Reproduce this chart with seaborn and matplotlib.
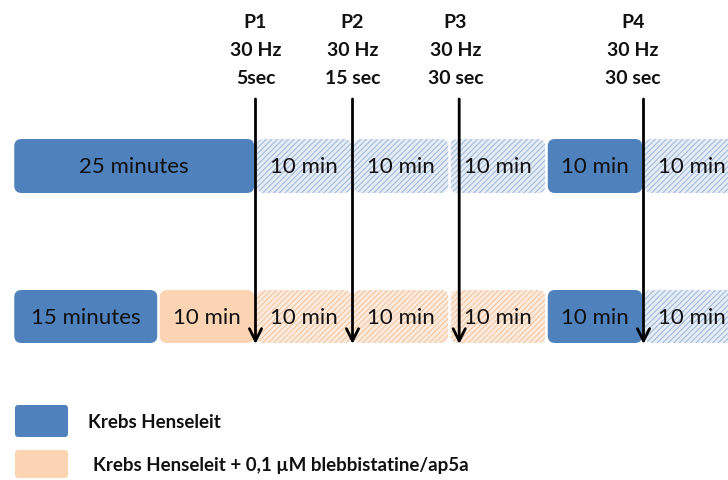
import numpy as np
import matplotlib
matplotlib.use("Agg")
import matplotlib.pyplot as plt
from matplotlib.patches import FancyBboxPatch
import seaborn as sns

# protocolo: duraciones (min) de cada bloque por fila
top_durations = [25, 10, 10, 10, 10, 10]
top_kinds = ["kh", "kh_h", "kh_h", "kh_h", "kh", "kh_h"]
top_labels = ["25 minutes", "10 min", "10 min", "10 min", "10 min", "10 min"]

bottom_durations = [15, 10, 10, 10, 10, 10, 10]
bottom_kinds = ["kh", "dr", "dr_h", "dr_h", "dr_h", "kh", "kh_h"]
bottom_labels = ["15 minutes", "10 min", "10 min", "10 min", "10 min", "10 min", "10 min"]

# estimulaciones
pulse_names = ["P1", "P2", "P3", "P4"]
pulse_freq = ["30 Hz", "30 Hz", "30 Hz", "30 Hz"]
pulse_len = ["5sec", "15 sec", "30 sec", "30 sec"]
pulse_time = [25, 35, 46, 65]
pulse_label_time = [25, 35, 45.6, 63.9]

legend_labels = ["Krebs Henseleit", "Krebs Henseleit + 0,1 µM blebbistatine/ap5a"]

sns.set_theme(style="white")
plt.rcParams["font.family"] = ["Lato", "DejaVu Sans"]
plt.rcParams["hatch.linewidth"] = 0.8

blue = "#4F81BD"
peach = "#FBD4B4"
styles = {
    "kh": dict(facecolor=blue, edgecolor=blue, hatch=None),
    "kh_h": dict(facecolor="#E6EDF6", edgecolor="#A3BBDA", hatch="//////"),
    "dr": dict(facecolor=peach, edgecolor=peach, hatch=None),
    "dr_h": dict(facecolor="#FDEBDD", edgecolor="#F0C6A3", hatch="//////"),
}

px_per_min = 9.7
x0 = -13 / px_per_min
fig = plt.figure(figsize=(7.28, 4.8), dpi=100)
ax = fig.add_axes([0, 0, 1, 1])
ax.set_xlim(x0, x0 + 728 / px_per_min)
ax.set_ylim(480, 0)
ax.axis("off")


def draw_row(durations, kinds, labels, ytop, ybot):
    starts = np.concatenate([[0], np.cumsum(durations)[:-1]])
    gap = 0.13
    rad = 0.75
    for s, d, k, lab in zip(starts, durations, kinds, labels):
        st = styles[k]
        box = FancyBboxPatch((s + gap + rad, ytop + rad * px_per_min),
                             d - 2 * gap - 2 * rad, (ybot - ytop) - 2 * rad * px_per_min,
                             boxstyle=f"round,pad={rad},rounding_size={rad}",
                             mutation_aspect=px_per_min,
                             facecolor=st["facecolor"], edgecolor=st["edgecolor"],
                             hatch=st["hatch"], linewidth=0, zorder=2)
        ax.add_patch(box)
        ax.text(s + d / 2, (ytop + ybot) / 2 + 1, lab, ha="center", va="center",
                fontsize=16, color="#111111", zorder=3)


draw_row(top_durations, top_kinds, top_labels, 139, 193)
draw_row(bottom_durations, bottom_kinds, bottom_labels, 290, 343)

# flechas de estimulacion
for t, tl, n, f, l in zip(pulse_time, pulse_label_time, pulse_names, pulse_freq, pulse_len):
    ax.annotate("", xy=(t, 344), xytext=(t, 99),
                arrowprops=dict(arrowstyle="->", lw=2, color="black",
                                mutation_scale=22, shrinkA=0, shrinkB=0), zorder=4)
    for yy, txt in zip([22, 50, 78], [n, f, l]):
        ax.text(tl, yy, txt, ha="center", va="center", fontsize=14,
                fontweight="bold", color="#111111")

# leyenda
leg_colors = [blue, peach]
leg_y = [(405, 437), (450, 478)]
leg_text_x = [(88 - 13) / px_per_min, (93 - 13) / px_per_min]
for c, (ya, yb), lab, tx in zip(leg_colors, leg_y, legend_labels, leg_text_x):
    r = 0.35
    ax.add_patch(FancyBboxPatch((x0 + 15 / px_per_min + r, ya + r * px_per_min),
                                53 / px_per_min - 2 * r, (yb - ya) - 2 * r * px_per_min,
                                boxstyle=f"round,pad={r},rounding_size={r}",
                                mutation_aspect=px_per_min, facecolor=c,
                                edgecolor=c, linewidth=0))
    ax.text(tx, (ya + yb) / 2 + 1, lab, ha="left", va="center", fontsize=13.5,
            fontweight="bold", color="#111111")

fig.savefig("out.png", dpi=100)
